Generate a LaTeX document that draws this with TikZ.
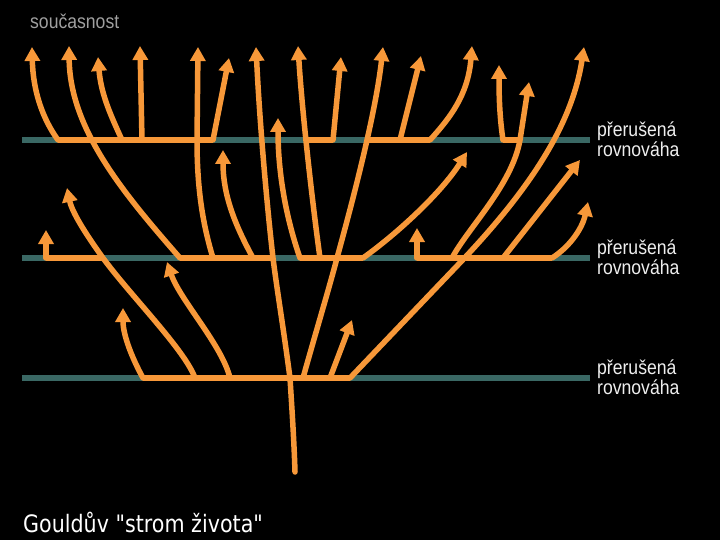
\documentclass[tikz,border=0pt]{standalone}
\usepackage{fontspec}
\setmainfont{Liberation Sans}
\newfontfamily\capfont{DejaVu Sans}
\usetikzlibrary{arrows.meta}
\definecolor{orng}{RGB}{247,152,57}
\definecolor{tealc}{RGB}{58,104,100}
\definecolor{lbl}{RGB}{238,238,238}
\definecolor{lblg}{RGB}{160,160,160}
\begin{document}
\begin{tikzpicture}[x=1pt,y=-1pt,
  eqline/.style={draw=tealc,line width=6pt},
  seg/.style={draw=orng,line width=6pt},
  br/.style={draw=orng,line width=5.5pt,line cap=round,-{Triangle[width=15pt,length=14pt]}},
  lab/.style={anchor=base west,inner sep=0pt,text=lbl,xscale=0.88,align=left,font=\fontsize{20}{16.5}\selectfont},
]
\fill[black] (0,0) rectangle (720,540);
\useasboundingbox (0,0) rectangle (720,540);
% equilibrium lines
\coordinate (L1a) at (22,140); \coordinate (L1b) at (590,140);
\coordinate (L2a) at (22,258); \coordinate (L2b) at (590,258);
\coordinate (L3a) at (22,378); \coordinate (L3b) at (590,378);
\draw[eqline] (L1a) -- (L1b);
\draw[eqline] (L2a) -- (L2b);
\draw[eqline] (L3a) -- (L3b);
% branch points, bottom line
\coordinate (root) at (295,472);
\coordinate (a1) at (143,378); \coordinate (a2) at (195,378); \coordinate (a3) at (230,378);
\coordinate (a4) at (290,378); \coordinate (a5) at (303,378); \coordinate (a6) at (330,378);
\coordinate (a7) at (350,378);
% middle line
\coordinate (b1) at (46,258); \coordinate (b2) at (103,258); \coordinate (b3) at (180,258);
\coordinate (b4) at (213,258); \coordinate (b5) at (253,258); \coordinate (b6) at (273,258);
\coordinate (b7) at (300,258); \coordinate (b8) at (320,258); \coordinate (b9) at (337,258);
\coordinate (b10) at (363,258); \coordinate (b11) at (417,258); \coordinate (b12) at (452,258);
\coordinate (b14) at (503,258); \coordinate (b15) at (552,258);
% top line
\coordinate (c1) at (58,140); \coordinate (c3) at (122,140); \coordinate (c4) at (142,140);
\coordinate (c5) at (197,140); \coordinate (c6) at (213,140); \coordinate (c7) at (307,140);
\coordinate (c8) at (333,140); \coordinate (c9) at (367,140); \coordinate (c10) at (400,140);
\coordinate (c11) at (430,140); \coordinate (c12) at (503,140); \coordinate (c13) at (520,140);
\coordinate (p6) at (455,268);
% tips
\coordinate (T1) at (32,47); \coordinate (T2) at (69,46); \coordinate (T3) at (98,57);
\coordinate (T4) at (140,46); \coordinate (T5) at (198,47); \coordinate (T6) at (229,58);
\coordinate (T7) at (256,47); \coordinate (T8) at (298,46); \coordinate (T9) at (341,57);
\coordinate (T10) at (383,47); \coordinate (T11) at (421,56); \coordinate (T12) at (472,46);
\coordinate (T13) at (499,65); \coordinate (T14) at (529,82); \coordinate (T15) at (584,47);
\coordinate (M1) at (278,118); \coordinate (M2) at (223,150); \coordinate (M3) at (467,152);
\coordinate (M4) at (580,160); \coordinate (M5) at (67,188); \coordinate (M6) at (588,202);
\coordinate (M7) at (46,230); \coordinate (M8) at (417,228); \coordinate (M9) at (167,262);
\coordinate (M10) at (123,308); \coordinate (M11) at (352,320);
% orange segments on the lines
\draw[seg] (a1) -- (a7);
\draw[seg] (b1) -- (b2);
\draw[seg] (b3) -- (b6);
\draw[seg] (b7) -- (b10);
\draw[seg] (b11) -- (b15);
\draw[seg] (c1) -- (c6);
\draw[seg] (c7) -- (c8);
\draw[seg] (c9) -- (c11);
\draw[seg] (c12) -- (c13);
% trunk
\draw[br] (root) .. controls (294,440) and (292,410) .. (a4)
  .. controls (283,325) and (277,290) .. (b6)
  .. controls (268,215) and (260,130) .. (T7);
% from bottom line
\draw[br] (a1) .. controls (132,358) and (123,335) .. (M10);
\draw[br] (a2) .. controls (185,350) and (130,295) .. (b2) .. controls (85,233) and (72,212) .. (M5);
\draw[br] (a3) .. controls (222,345) and (180,300) .. (M9);
\draw[br] (a5) .. controls (315,335) and (330,285) .. (b9) .. controls (346,225) and (375,120) .. (T10);
\draw[br] (a6) -- (M11);
\draw[br] (a7) -- (p6) .. controls (530,190) and (572,125) .. (T15);
% from middle line
\draw[br] (b1) -- (M7);
\draw[br] (b3) .. controls (125,195) and (70,130) .. (T2);
\draw[br] (b4) .. controls (203,225) and (197,190) .. (c5) -- (T5);
\draw[br] (b5) .. controls (235,225) and (223,195) .. (M2);
\draw[br] (b7) .. controls (285,215) and (278,170) .. (M1);
\draw[br] (b8) .. controls (312,200) and (302,110) .. (T8);
\draw[br] (b10) .. controls (398,233) and (442,192) .. (M3);
\draw[br] (b11) -- (M8);
\draw[br] (b12) .. controls (468,228) and (512,185) .. (c13) -- (T14);
\draw[br] (b14) -- (M4);
\draw[br] (b15) .. controls (568,248) and (582,230) .. (M6);
% from top line
\draw[br] (c1) .. controls (42,118) and (33,90) .. (T1);
\draw[br] (c3) .. controls (112,118) and (101,95) .. (T3);
\draw[br] (c4) -- (T4);
\draw[br] (c6) -- (T6);
\draw[br] (c8) -- (T9);
\draw[br] (c10) -- (T11);
\draw[br] (c11) .. controls (450,118) and (468,95) .. (T12);
\draw[br] (c12) .. controls (500,120) and (499,100) .. (T13);
% labels
\node[lab,text=lblg] (now) at (30,28.5) {současnost};
\node[lab] (pr1) at (597,156.5) {přerušená\\rovnováha};
\node[lab] (pr2) at (597,274.8) {přerušená\\rovnováha};
\node[lab] (pr3) at (597,394.8) {přerušená\\rovnováha};
\node[anchor=base west,inner sep=0pt,text=white,xscale=0.86,font=\capfont\fontsize{24}{28}\selectfont] (cap) at (23,532) {Gouldův "strom života"};
\end{tikzpicture}
\end{document}
